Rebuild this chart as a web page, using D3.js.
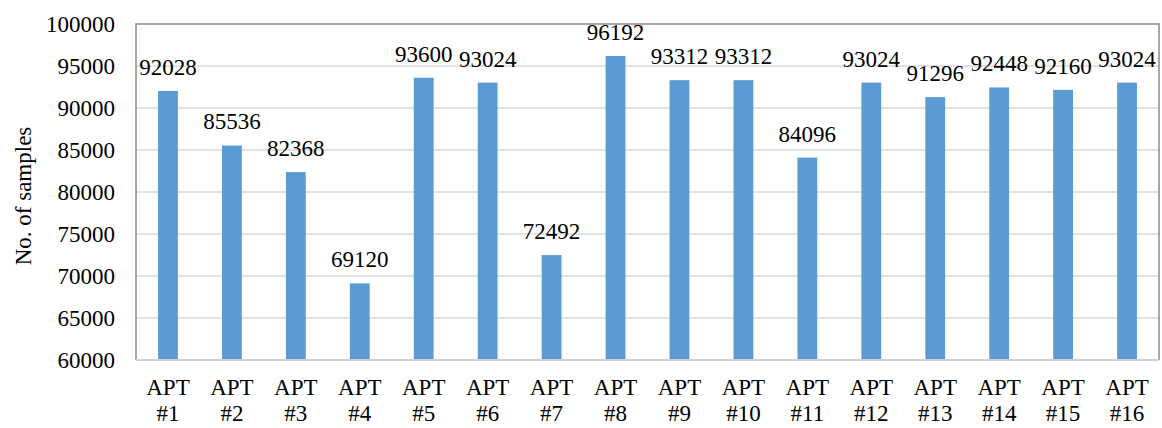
<!DOCTYPE html>
<html lang="en">
  <head>
    <meta charset="UTF-8" />
    <title>No. of samples per APT</title>
    <script src="https://d3js.org/d3.v7.min.js"></script>
    <style>
      body { margin: 0; background: #fff; }
    </style>
  </head>
  <body>
    <svg width="1162" height="428" font-family="'Liberation Serif', 'Times New Roman', Times, 'DejaVu Serif', serif"></svg>

    <script>
      // data
      const categories = [
        "APT #1", "APT #2", "APT #3", "APT #4", "APT #5", "APT #6", "APT #7", "APT #8",
        "APT #9", "APT #10", "APT #11", "APT #12", "APT #13", "APT #14", "APT #15", "APT #16",
      ];
      const samples = [
        92028, 85536, 82368, 69120, 93600, 93024, 72492, 96192,
        93312, 93312, 84096, 93024, 91296, 92448, 92160, 93024,
      ];
      const yTicks = [60000, 65000, 70000, 75000, 80000, 85000, 90000, 95000, 100000];
      const yTitle = "No. of samples";

      const svg = d3.select("svg");
      const plot = { left: 136, right: 1159, top: 24, bottom: 360 };
      const fontSize = 23;

      const x = d3
        .scaleBand()
        .domain(categories)
        .range([plot.left, plot.right])
        .paddingInner(0.69)
        .paddingOuter(0.345);

      const y = d3
        .scaleLinear()
        .domain([60000, 100000])
        .range([plot.bottom, plot.top]);

      // gridlines
      svg
        .append("g")
        .selectAll("line")
        .data(yTicks.slice(1, -1))
        .join("line")
        .attr("x1", plot.left)
        .attr("x2", plot.right)
        .attr("y1", (d) => y(d))
        .attr("y2", (d) => y(d))
        .style("stroke", "#d9d9d9")
        .style("stroke-width", 1.5);

      // y tick labels
      svg
        .append("g")
        .selectAll("text")
        .data(yTicks)
        .join("text")
        .attr("x", 115)
        .attr("y", (d) => y(d))
        .attr("dy", "0.34em")
        .attr("font-size", fontSize)
        .attr("text-anchor", "end")
        .text((d) => d);

      // bars
      svg
        .append("g")
        .selectAll("rect")
        .data(samples)
        .join("rect")
        .attr("x", (d, i) => x(categories[i]))
        .attr("y", (d) => y(d))
        .attr("width", x.bandwidth())
        .attr("height", (d) => y(60000) - y(d))
        .style("fill", "#5b9bd5");

      // value labels
      svg
        .append("g")
        .selectAll("text")
        .data(samples)
        .join("text")
        .attr("x", (d, i) => x(categories[i]) + x.bandwidth() / 2)
        .attr("y", (d) => y(d) - 16)
        .attr("font-size", fontSize)
        .attr("text-anchor", "middle")
        .text((d) => d);

      // frame: left, top, right darker; bottom axis light
      svg
        .append("path")
        .attr(
          "d",
          `M${plot.left},${plot.bottom}V${plot.top}H${plot.right}V${plot.bottom}`
        )
        .style("fill", "none")
        .style("stroke", "#8c8c8c")
        .style("stroke-width", 1.5);

      svg
        .append("line")
        .attr("x1", plot.left)
        .attr("x2", plot.right)
        .attr("y1", plot.bottom)
        .attr("y2", plot.bottom)
        .style("stroke", "#d0d0d0")
        .style("stroke-width", 2);

      // category labels on two lines
      svg
        .append("g")
        .selectAll("text")
        .data(categories)
        .join("text")
        .attr("font-size", fontSize)
        .attr("text-anchor", "middle")
        .each(function (d) {
          const parts = d.split(" ");
          const t = d3.select(this);
          const cx = x(d) + x.bandwidth() / 2;
          t.append("tspan").attr("x", cx).attr("y", 395).text(parts[0]);
          t.append("tspan").attr("x", cx).attr("y", 421).text(parts[1]);
        });

      // y axis title
      svg
        .append("text")
        .attr("transform", `translate(31,196) rotate(-90)`)
        .attr("font-size", fontSize)
        .attr("text-anchor", "middle")
        .text(yTitle);
    </script>
  </body>
</html>
